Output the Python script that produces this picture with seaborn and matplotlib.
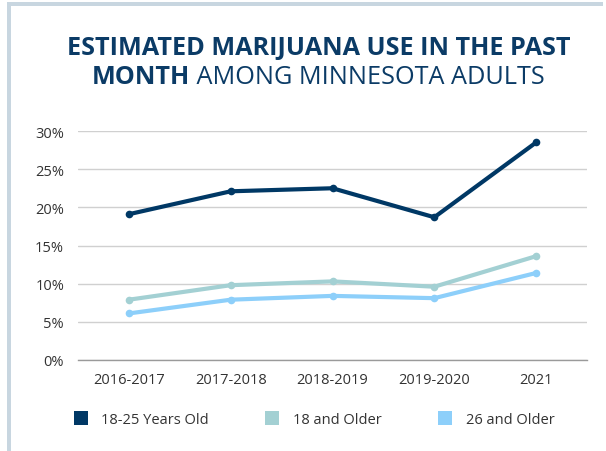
import matplotlib
matplotlib.use("Agg")
import matplotlib.pyplot as plt
from matplotlib.lines import Line2D
from matplotlib.patches import Rectangle
from matplotlib.ticker import PercentFormatter, MultipleLocator
import seaborn as sns
import pandas as pd

# Survey periods and estimated past-month use (%)
periods = ["2016-2017", "2017-2018", "2018-2019", "2019-2020", "2021"]
age_18_25 = [19.1, 22.1, 22.5, 18.7, 28.5]
age_18_plus = [7.9, 9.8, 10.3, 9.6, 13.6]
age_26_plus = [6.1, 7.9, 8.4, 8.1, 11.4]
groups = ["18-25 Years Old", "18 and Older", "26 and Older"]
colors = ["#003865", "#a3d0d3", "#8dcffa"]

df = pd.DataFrame({
    "period": periods * 3,
    "value": age_18_25 + age_18_plus + age_26_plus,
    "group": [g for g in groups for _ in periods],
})

sns.set_theme(style="white")
plt.rcParams["font.family"] = ["Open Sans", "DejaVu Sans"]

fig = plt.figure(figsize=(6.06, 4.52), dpi=100)
W, H = 606, 452
ax = fig.add_axes([78 / W, 1 - 361 / H, (587 - 78) / W, (361 - 132) / H])

palette = dict(zip(groups, colors))
sns.lineplot(data=df, x="period", y="value", hue="group", palette=palette,
             hue_order=groups, sort=False, marker="o", markersize=5.5,
             markeredgewidth=0, linewidth=3, legend=False, ax=ax)

ax.set_xlim(-0.5, len(periods) - 0.5)
ax.set_ylim(0, 30)
ax.yaxis.set_major_locator(MultipleLocator(5))
ax.yaxis.set_major_formatter(PercentFormatter(decimals=0))
ax.grid(axis="y", color="#d0d0d0", linewidth=1)
ax.set_axisbelow(True)
for side in ["top", "right", "left"]:
    ax.spines[side].set_visible(False)
ax.spines["bottom"].set_color("#9a9a9a")
ax.spines["bottom"].set_linewidth(1)
ax.set_xlabel("")
ax.set_ylabel("")
ax.tick_params(axis="both", length=0, labelsize=10.5, labelcolor="#333333")
ax.tick_params(axis="x", pad=9)
ax.tick_params(axis="y", pad=10)

# Legend below the plot
handles = [Line2D([0], [0], marker="s", linestyle="none", markersize=9.5,
                  markerfacecolor=c, markeredgewidth=0) for c in colors]
fig.legend(handles, groups, loc="center left", bbox_to_anchor=(74 / W, 1 - 421 / H),
           ncol=3, frameon=False, fontsize=10.5, handletextpad=0.96,
           columnspacing=3.9, labelcolor="#333333", handlelength=0.9,
           borderpad=0, borderaxespad=0)

# Panel frame on the top and left edges
frame = "#c8d6e0"
fig.patches.append(Rectangle((7 / W, 0), 4 / W, 1 - 3 / H, transform=fig.transFigure,
                             facecolor=frame, edgecolor="none"))
fig.patches.append(Rectangle((7 / W, 1 - 7 / H), (603 - 7) / W, 4 / H,
                             transform=fig.transFigure, facecolor=frame, edgecolor="none"))

# Two-line title with mixed weights
navy = "#0b3b66"
tsize = 18.2
fig.text(319 / W, 1 - 48 / H, "ESTIMATED MARIJUANA USE IN THE PAST", ha="center",
         va="center", fontsize=tsize, fontweight="bold", color=navy)
fig.canvas.draw()
r = fig.canvas.get_renderer()
t1 = fig.text(0, 1 - 77 / H, "MONTH", ha="left", va="center", fontsize=tsize,
              fontweight="bold", color=navy)
t2 = fig.text(0, 1 - 77 / H, " AMONG MINNESOTA ADULTS", ha="left", va="center",
              fontsize=tsize, color=navy)
w1 = t1.get_window_extent(r).width
w2 = t2.get_window_extent(r).width
x0 = 318 - (w1 + w2) / 2
t1.set_x(x0 / W)
t2.set_x((x0 + w1) / W)

fig.savefig("out.png", dpi=100, facecolor="white")
